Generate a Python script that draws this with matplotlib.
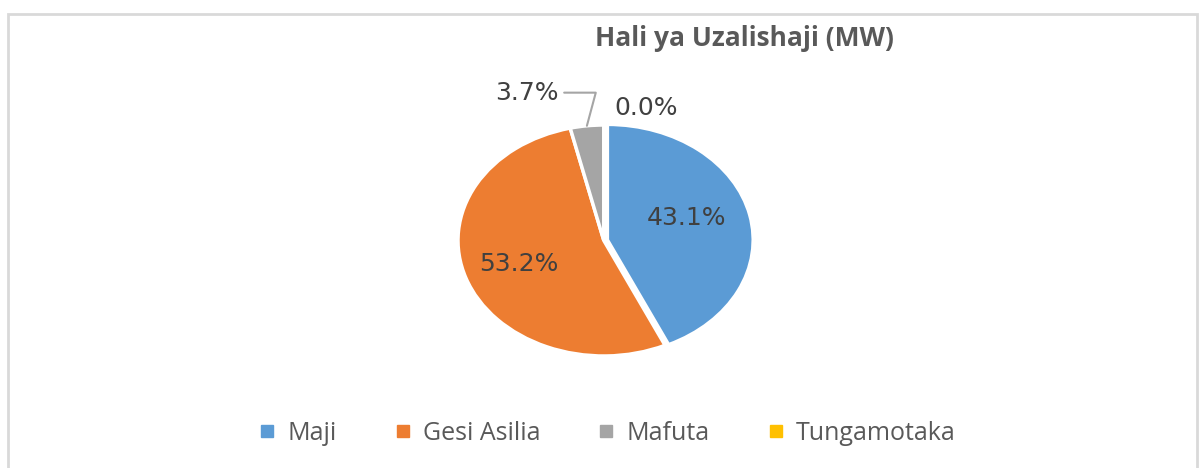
import matplotlib
matplotlib.use("Agg")
import matplotlib.pyplot as plt
import numpy as np
from matplotlib.lines import Line2D
from matplotlib.patches import Rectangle

# data
labels = ["Maji", "Gesi Asilia", "Mafuta", "Tungamotaka"]
values = [43.1, 53.2, 3.7, 0.0]
colors = ["#5B9BD5", "#ED7D31", "#A5A5A5", "#FFC000"]
title = "Hali ya Uzalishaji (MW)"

text_grey = "#404040"

fig = plt.figure(figsize=(11.99, 4.68), dpi=100)

# outer chart frame
fig.patches.append(Rectangle((8 / 1199, -0.02), 1189 / 1199, 1.0 - 14 / 468 + 0.02,
                             transform=fig.transFigure, fill=False,
                             edgecolor="#d9d9d9", linewidth=2))

# pie axes stretched like the original (elliptical pie)
ax = fig.add_axes([458 / 1199, 1 - 356 / 468, 296 / 1199, 231 / 468])
wedges, texts, autotexts = ax.pie(values, colors=colors, startangle=90, counterclock=False,
                                  explode=[0.025, 0, 0, 0], autopct="%.1f%%", pctdistance=0.62,
                                  wedgeprops=dict(edgecolor="white", linewidth=2.5),
                                  textprops=dict(color=text_grey, fontsize=18, family="DejaVu Sans"))
ax.set_aspect("auto")
ax.set_xlim(-1.0, 1.03)
ax.set_ylim(-1.0, 1.0)
ax.axis("off")
# nudge the Maji label a touch up/left like the original
x0, y0 = autotexts[0].get_position()
autotexts[0].set_position((x0 - 0.06, y0 + 0.06))

# small slices get labels outside
total = sum(values)
start = 90.0
for i, v in enumerate(values):
    ang = np.deg2rad(start - v / total * 360 / 2)
    start -= v / total * 360
    if v / total < 0.05:
        autotexts[i].set_visible(False)
        txt = "%.1f%%" % (v / total * 100)
        if v > 0:
            ax.annotate(txt, xy=(np.cos(ang) * 1.0, np.sin(ang) * 1.0),
                        xytext=(-0.31, 1.28), ha="right", va="center",
                        color=text_grey, fontsize=18, family="DejaVu Sans",
                        arrowprops=dict(arrowstyle="-", color="#a5a5a5", lw=1.5,
                                        connectionstyle="angle,angleA=0,angleB=75,rad=0",
                                        shrinkA=2, shrinkB=0))
        else:
            ax.text(0.29, 1.15, txt, ha="center", va="center",
                    color=text_grey, fontsize=18, family="DejaVu Sans")

fig.text(744 / 1199, 1 - 38 / 468, title, ha="center", va="center",
         fontsize=19, fontweight="bold", color="#595959", family="Open Sans")

handles = [Line2D([], [], marker="s", linestyle="none", markersize=8,
                  markerfacecolor=c, markeredgecolor=c) for c in colors]
leg = fig.legend(handles, labels, loc="center", bbox_to_anchor=(607 / 1199, 1 - 433 / 468),
                 ncol=4, frameon=False, handlelength=0.7, handletextpad=0.45,
                 columnspacing=2.3, prop=dict(family="Open Sans", size=18))
for t in leg.get_texts():
    t.set_color("#595959")

plt.savefig("out.png", dpi=100)
